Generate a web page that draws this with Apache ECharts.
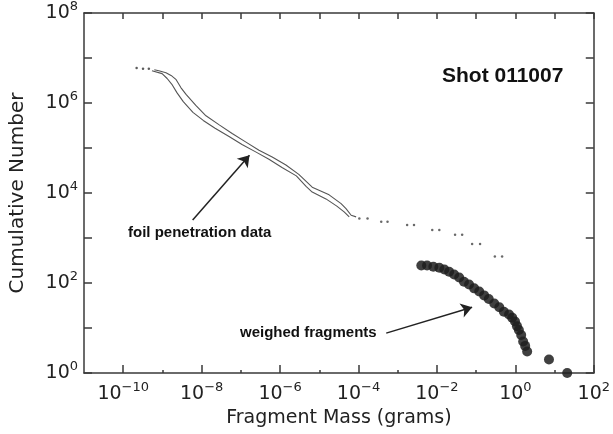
<!DOCTYPE html>
<html>
<head>
<meta charset="utf-8">
<script src="https://cdn.jsdelivr.net/npm/echarts@6/dist/echarts.min.js"></script>
<style>
html, body { margin: 0; padding: 0; background: #fff; }
#chart { width: 613px; height: 434px; }
</style>
</head>
<body>
<div id="chart"></div>
<script>
// foil penetration data: [mass (g), cumulative number]
const foilLeader = [[2.2e-10, 6.0e6], [3.2e-10, 5.8e6], [4.5e-10, 5.8e6]];
const foilUpper = [
    [6.2e-10, 5.5e6], [8.1e-10, 5.2e6], [1.23e-9, 4.7e6], [1.66e-9, 4.1e6], [2.24e-9, 3.3e6],
    [2.95e-9, 2.2e6], [4.0e-9, 1.55e6], [7.2e-9, 8.7e5], [1.29e-8, 5.2e5], [2.75e-8, 3.3e5],
    [6.0e-8, 2.1e5], [1.35e-7, 1.35e5], [2.9e-7, 8.9e4], [6.3e-7, 6.3e4], [1.41e-6, 4.2e4],
    [3.0e-6, 2.6e4], [6.6e-6, 1.35e4], [1.78e-5, 9.1e3], [3.6e-5, 5.8e3], [4.8e-5, 4.5e3],
    [6.5e-5, 3.2e3], [8.7e-5, 2.95e3]
];
const foilLower = [
    [5.4e-10, 5.2e6], [9.8e-10, 4.5e6], [1.32e-9, 3.5e6], [1.74e-9, 2.6e6], [2.34e-9, 1.7e6],
    [3.4e-9, 1.07e6], [6.0e-9, 6.2e5], [1.1e-8, 4.1e5], [2.2e-8, 2.75e5], [5.0e-8, 1.8e5],
    [1.07e-7, 1.2e5], [2.45e-7, 8.1e4], [5.2e-7, 5.6e4], [1.12e-6, 3.7e4], [2.6e-6, 2.4e4],
    [4.6e-6, 1.4e4], [6.6e-6, 1.05e4], [1.48e-5, 7.4e3], [2.8e-5, 5.1e3], [4.3e-5, 3.8e3],
    [5.8e-5, 2.95e3]
];
const foilTail = [
    [1.05e-4, 2.7e3], [1.7e-4, 2.7e3], [3.8e-4, 2.3e3], [5.5e-4, 2.3e3],
    [1.74e-3, 1.95e3], [2.6e-3, 1.95e3], [7.6e-3, 1.5e3], [1.15e-2, 1.5e3],
    [2.9e-2, 1.18e3], [4.4e-2, 1.18e3], [7.9e-2, 740], [0.126, 740],
    [0.30, 390], [0.46, 390]
];
// weighed fragments
const fragments = [
    [4.0e-3, 245], [5.6e-3, 245], [8.1e-3, 230], [1.15e-2, 218], [1.55e-2, 200],
    [2.05e-2, 178], [2.75e-2, 155], [3.7e-2, 132], [4.9e-2, 107], [6.6e-2, 93],
    [8.9e-2, 76], [0.12, 65], [0.16, 53], [0.21, 44], [0.29, 35],
    [0.39, 29], [0.51, 23], [0.69, 20], [0.83, 17], [0.98, 14],
    [1.1, 11], [1.23, 9], [1.41, 7], [1.58, 5], [1.78, 4],
    [2.0, 3], [7.2, 2], [21, 1]
];
// arrows: [from, to] in data units
const foilArrow = [[5.9e-9, 2.5e3], [1.66e-7, 6.9e4]];
const fragArrow = [[5.1e-4, 7.7], [0.079, 28.8]];

const xMajor = [1e-10, 1e-8, 1e-6, 1e-4, 1e-2, 1, 100];
const xMinor = [1e-9, 1e-7, 1e-5, 1e-3, 1e-1, 10];
const xAll = xMajor.concat(xMinor);
const yMajor = [1, 1e2, 1e4, 1e6, 1e8];
const yAll = [1, 10, 1e2, 1e3, 1e4, 1e5, 1e6, 1e7, 1e8];

const axisFont = 'DejaVu Sans';
const lineColor = '#3a3a3a';

function powLabel(value) {
    const e = Math.round(Math.log10(value));
    const s = e < 0 ? '\u2212' + (-e) : '' + e;
    return '{b|10}{s|' + s + '}';
}
const labelRich = {
    b: { fontSize: 19, fontFamily: axisFont, color: '#222' },
    s: { fontSize: 13, fontFamily: axisFont, color: '#222', padding: [0, 0, 13, 0] }
};

const baseLog = (extra) => Object.assign({
    type: 'log', logBase: 10, splitLine: { show: false }
}, extra);

const chart = echarts.init(document.getElementById('chart'));
chart.setOption({
    animation: false,
    backgroundColor: '#fff',
    grid: { left: 84, right: 18, top: 10, bottom: 61 },
    xAxis: [
        baseLog({
            position: 'bottom', min: 1e-11, max: 100,
            name: 'Fragment Mass (grams)', nameLocation: 'middle', nameGap: 36,
            nameTextStyle: { fontFamily: axisFont, fontSize: 19, color: '#222' },
            axisLine: { lineStyle: { color: lineColor, width: 1.5 } },
            axisTick: { inside: true, length: 8, customValues: xMajor, lineStyle: { color: lineColor, width: 1.5 } },
            axisLabel: { customValues: xMajor, margin: 8, formatter: powLabel, rich: labelRich }
        }),
        baseLog({
            position: 'bottom', min: 1e-11, max: 100,
            axisLine: { show: false },
            axisTick: { inside: true, length: 3, customValues: xMinor, lineStyle: { color: lineColor, width: 1.5 } },
            axisLabel: { show: false }
        }),
        baseLog({
            position: 'top', min: 1e-11, max: 100,
            axisLine: { lineStyle: { color: lineColor, width: 1.5 } },
            axisTick: { inside: true, length: 6, customValues: xAll, lineStyle: { color: lineColor, width: 1.5 } },
            axisLabel: { show: false }
        })
    ],
    yAxis: [
        baseLog({
            position: 'left', min: 1, max: 1e8,
            name: 'Cumulative Number', nameLocation: 'middle', nameGap: 56,
            nameTextStyle: { fontFamily: axisFont, fontSize: 20, color: '#222' },
            axisLine: { lineStyle: { color: lineColor, width: 1.5 } },
            axisTick: { inside: true, length: 8, customValues: yAll, lineStyle: { color: lineColor, width: 1.5 } },
            axisLabel: { customValues: yMajor, margin: 6, formatter: powLabel, rich: labelRich }
        }),
        baseLog({
            position: 'right', min: 1, max: 1e8,
            axisLine: { lineStyle: { color: lineColor, width: 1.5 } },
            axisTick: { inside: true, length: 8, customValues: yAll, lineStyle: { color: lineColor, width: 1.5 } },
            axisLabel: { show: false }
        })
    ],
    series: [
        {
            name: 'foil leader', type: 'scatter', data: foilLeader,
            symbolSize: 2.5, itemStyle: { color: '#333' }, silent: true
        },
        {
            name: 'foil run 1', type: 'line', data: foilUpper, showSymbol: false,
            lineStyle: { color: '#555', width: 1.1 }, silent: true
        },
        {
            name: 'foil run 2', type: 'line', data: foilLower, showSymbol: false,
            lineStyle: { color: '#555', width: 1.1 }, silent: true
        },
        {
            name: 'foil tail', type: 'scatter', data: foilTail,
            symbolSize: 2.5, itemStyle: { color: '#444' }, silent: true
        },
        {
            name: 'weighed fragments', type: 'scatter', data: fragments,
            symbolSize: 10, itemStyle: { color: '#1e1e1e', opacity: 0.85 }, silent: true,
            markLine: {
                silent: true, animation: false,
                symbol: ['none', 'arrow'], symbolSize: 11,
                lineStyle: { color: '#222', width: 1.5, type: 'solid' },
                label: { show: false },
                data: [
                    [{ coord: foilArrow[0] }, { coord: foilArrow[1] }],
                    [{ coord: fragArrow[0] }, { coord: fragArrow[1] }]
                ]
            }
        }
    ],
    graphic: [
        {
            type: 'text', left: 442, top: 66,
            style: { text: 'Shot 011007', font: 'bold 21px "Liberation Sans"', fill: '#111' }
        },
        {
            type: 'text', left: 128, top: 225,
            style: { text: 'foil penetration data', font: 'bold 15px "Liberation Sans"', fill: '#111' }
        },
        {
            type: 'text', left: 240, top: 325,
            style: { text: 'weighed fragments', font: 'bold 15px "Liberation Sans"', fill: '#111' }
        }
    ]
});
</script>
</body>
</html>
